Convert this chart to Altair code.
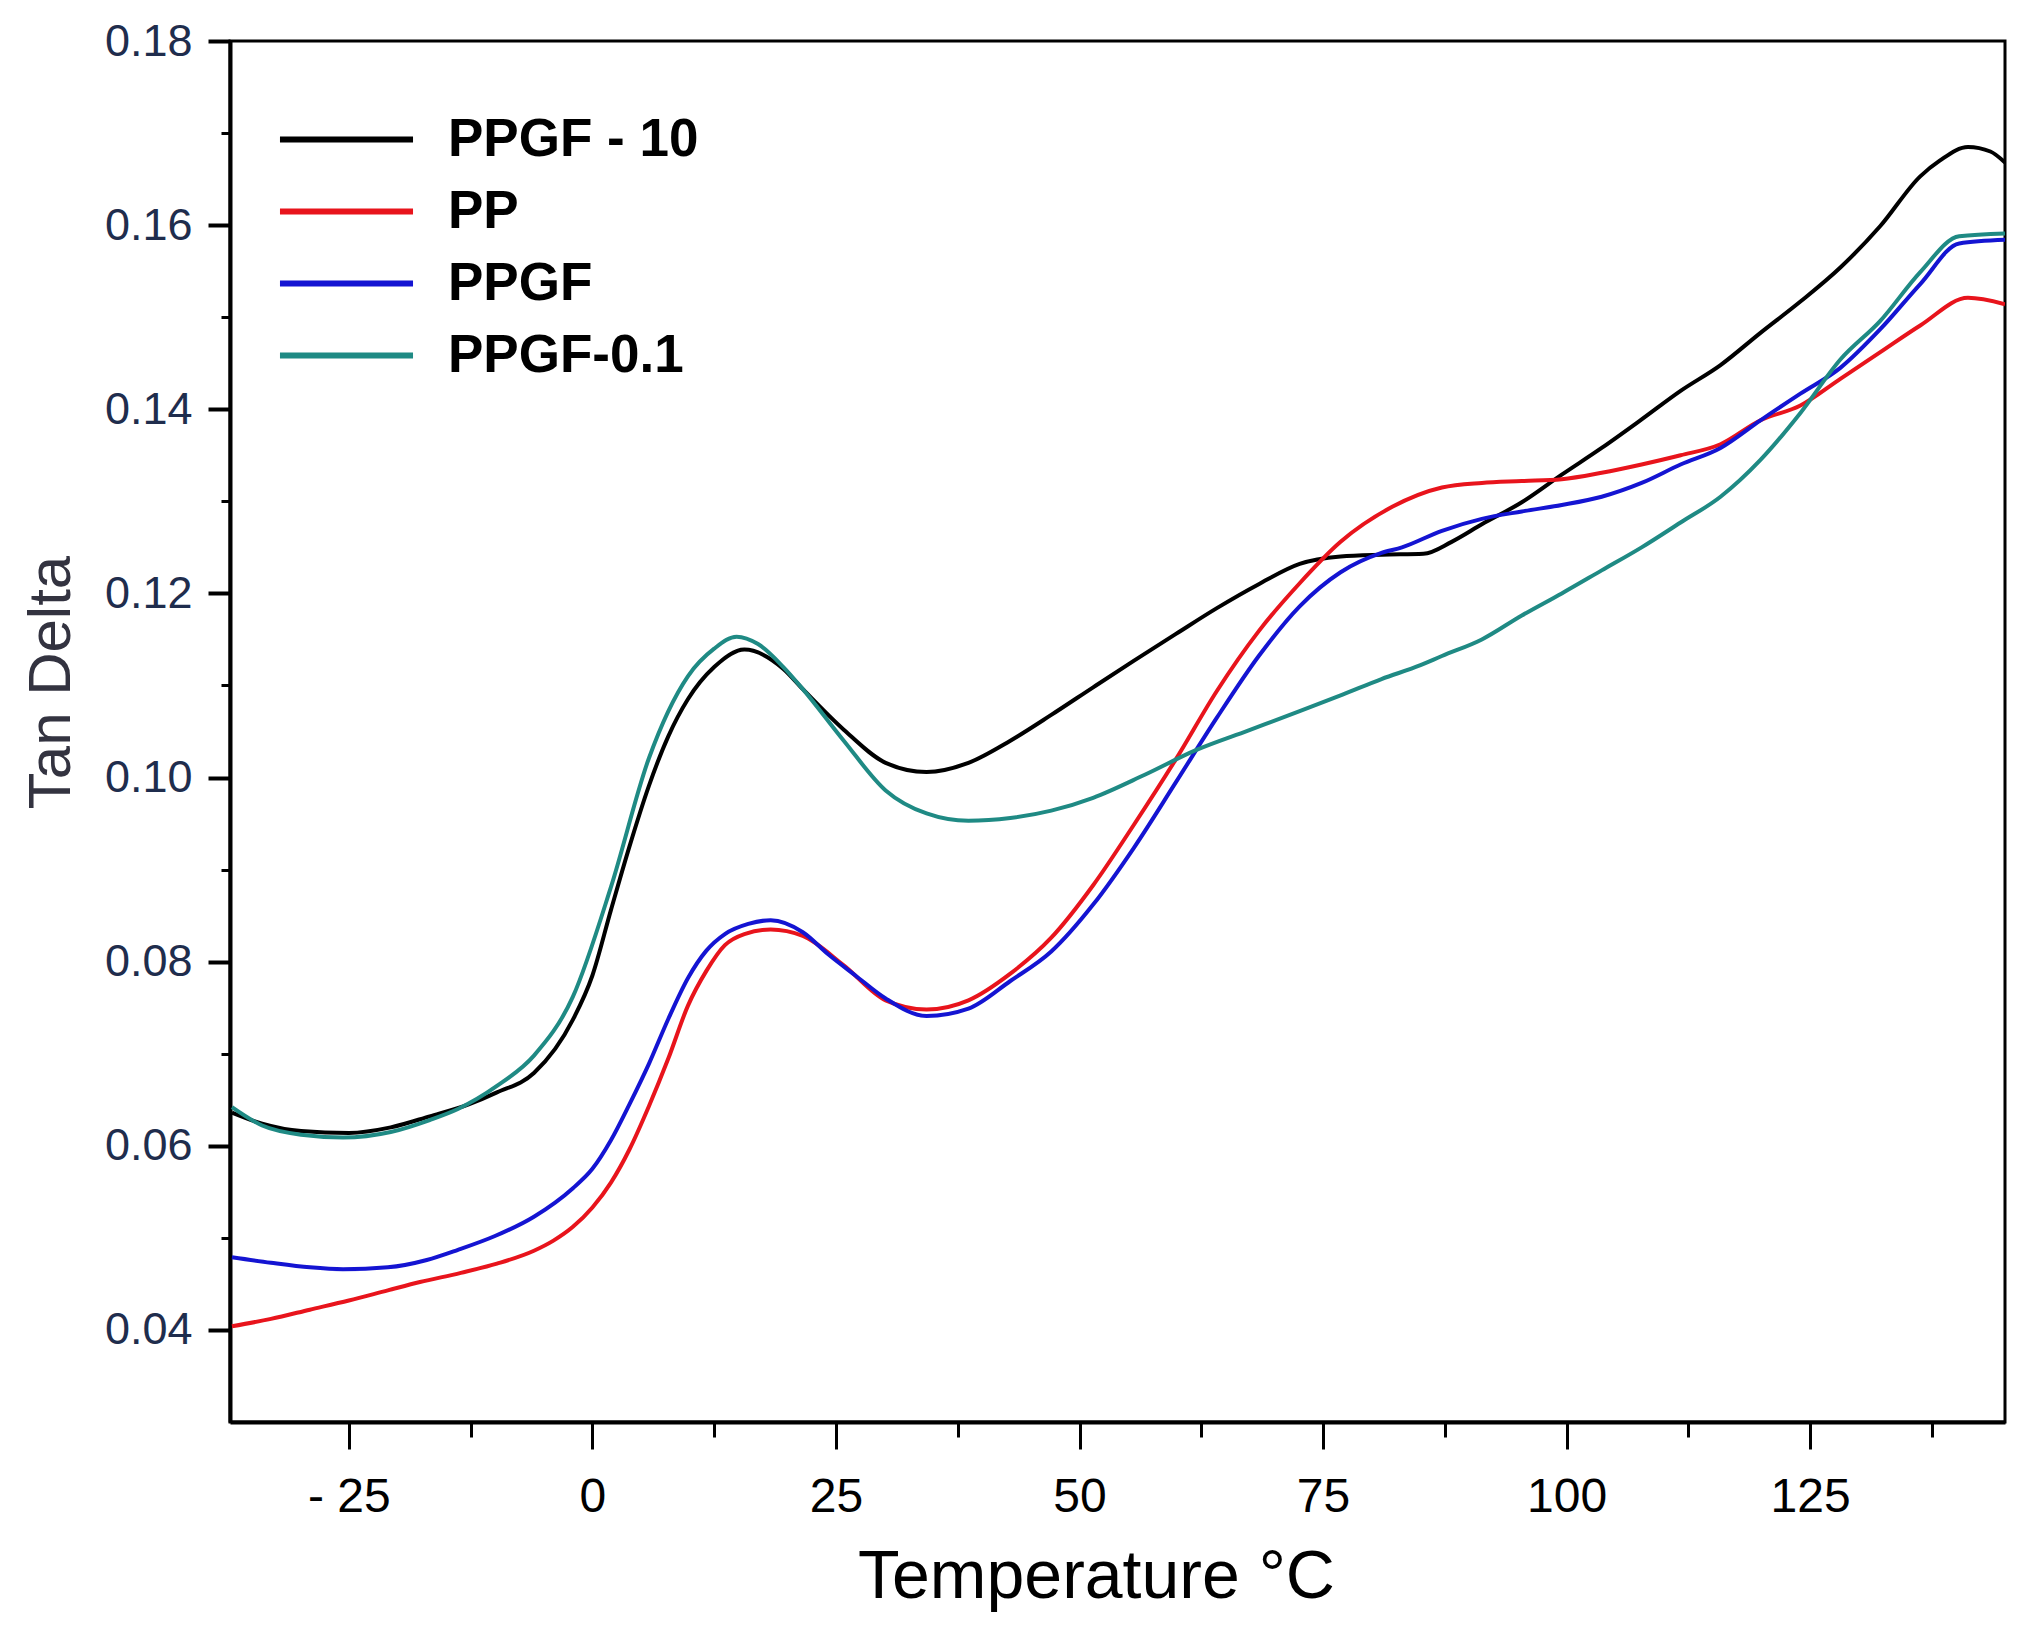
import pandas as pd
import altair as alt

# series: temperature (degC) and tan delta
series = ["PPGF - 10", "PP", "PPGF", "PPGF-0.1"]
colors = ["#000000", "#e8141c", "#1414d2", "#1f8a84"]

ppgf10_t = [-37, -33.9, -29.9, -25, -20.7, -16.7, -12.7, -9.8, -6.0, -2.0, 0, 1.9, 3.8,
            5.8, 7.8, 9.8, 12.5, 15.6, 19.6, 21.6, 25.8, 30.1, 34.3, 38.6, 42.9, 47.1,
            51.4, 55.6, 59.9, 64.1, 68.4, 72.6, 76.8, 81.0, 85.3, 88.2, 91.3, 95.4, 99.5,
            103.6, 107.7, 111.7, 115.8, 119.9, 124.0, 128.1, 132.2, 136.3, 138.3, 141.2,
            143.5, 145]
ppgf10_v = [0.0636, 0.0624, 0.0616, 0.0614, 0.0620, 0.0632, 0.0645, 0.0658, 0.0679,
            0.0737, 0.0785, 0.0856, 0.0925, 0.0991, 0.1045, 0.1085, 0.1120, 0.1139,
            0.1118, 0.1096, 0.1052, 0.1016, 0.1006, 0.1016, 0.1040, 0.1068, 0.1098,
            0.1127, 0.1156, 0.1184, 0.1210, 0.1232, 0.1240, 0.1242, 0.1243, 0.1256,
            0.1275, 0.1299, 0.1329, 0.1358, 0.1389, 0.1420, 0.1448, 0.1483, 0.1517,
            0.1554, 0.1599, 0.1653, 0.1670, 0.1685, 0.1680, 0.1668]

pp_t = [-37, -33, -29, -25, -21, -17.7, -13.5, -9.8, -6, -4.0, -2, 0, 1.9, 3.8, 5.8, 7.8,
        9.8, 11.7, 13.6, 15.6, 18.3, 21.6, 25.8, 30.1, 34.3, 38.6, 42.9, 47.1, 51.4,
        55.6, 59.9, 64.1, 68.4, 72.6, 76.8, 82.1, 87.2, 91.3, 95.4, 99.5, 103.6, 107.7,
        111.7, 115.8, 119.9, 124.0, 128.1, 132.2, 136.3, 141.2, 145]
pp_v = [0.0404, 0.0412, 0.0422, 0.0432, 0.0443, 0.0452, 0.0462, 0.0472, 0.0486, 0.0497,
        0.0512, 0.0533, 0.0560, 0.0596, 0.0643, 0.0695, 0.0752, 0.0790, 0.0818, 0.0830,
        0.0835, 0.0828, 0.0796, 0.0758, 0.0748, 0.0758, 0.0787, 0.0826, 0.0883, 0.0949,
        0.1020, 0.1094, 0.1159, 0.1211, 0.1256, 0.1294, 0.1315, 0.1320, 0.1322, 0.1324,
        0.1331, 0.1340, 0.1350, 0.1362, 0.1388, 0.1404, 0.1433, 0.1462, 0.1491, 0.1521,
        0.1514]

ppgf_t = [-37, -33, -29, -25.6, -21, -17, -13.8, -10, -6.0, -2.0, 0, 1.9, 3.8, 5.8, 7.8,
          9.8, 11.7, 13.6, 16, 18.3, 21.6, 24.2, 27, 30.1, 34.3, 38.6, 42.9, 47.1, 51.4,
          55.6, 59.9, 64.1, 68.4, 72.6, 76.8, 81.0, 83.1, 87.2, 91.3, 95.4, 99.5, 103.6,
          107.7, 111.7, 115.8, 119.9, 124.0, 128.1, 132.2, 136.3, 140.3, 145]
ppgf_v = [0.0479, 0.0473, 0.0468, 0.0466, 0.0468, 0.0476, 0.0487, 0.0502, 0.0523, 0.0554,
          0.0575, 0.0606, 0.0645, 0.0689, 0.0738, 0.0782, 0.0812, 0.0830, 0.0841, 0.0845,
          0.0832, 0.0808, 0.0785, 0.0760, 0.0741, 0.0749, 0.0779, 0.0811, 0.0862, 0.0924,
          0.0995, 0.1065, 0.1132, 0.1186, 0.1223, 0.1244, 0.1250, 0.1268, 0.1281, 0.1289,
          0.1296, 0.1305, 0.1320, 0.1340, 0.1358, 0.1388, 0.1417, 0.1445, 0.1487, 0.1536,
          0.1580, 0.1584]

ppgf01_t = [-37, -33.9, -29.9, -25.6, -20.7, -16.7, -13.8, -9.8, -6.0, -2.0, 1.9, 5.8,
            9.8, 12.5, 14.8, 17, 19.6, 21.6, 25.8, 30.1, 34.3, 38.6, 42.9, 47.1, 51.4,
            56.7, 62.0, 67.3, 72.6, 77, 81.0, 85, 87.2, 91.3, 95.4, 99.5, 103.6, 107.7,
            111.7, 115.8, 119.9, 124.0, 128.1, 132.2, 136.3, 140.3, 145]
ppgf01_v = [0.0642, 0.0622, 0.0612, 0.0609, 0.0615, 0.0628, 0.0640, 0.0665, 0.0698,
            0.0762, 0.0881, 0.1021, 0.1110, 0.1140, 0.1153, 0.1145, 0.1120, 0.1096,
            0.1040, 0.0986, 0.0961, 0.0953, 0.0956, 0.0964, 0.0978, 0.1003, 0.1030,
            0.1051, 0.1072, 0.1090, 0.1107, 0.1122, 0.1132, 0.1150, 0.1176, 0.1200,
            0.1225, 0.1250, 0.1277, 0.1305, 0.1345, 0.1396, 0.1454, 0.1496, 0.1549,
            0.1588, 0.1591]

x_major = [-25, 0, 25, 50, 75, 100, 125]
x_minor = [-12.5, 12.5, 37.5, 62.5, 87.5, 112.5, 137.5]
y_major = [0.04, 0.06, 0.08, 0.10, 0.12, 0.14, 0.16, 0.18]
y_minor = [0.05, 0.07, 0.09, 0.11, 0.13, 0.15, 0.17]

frames = []
for name, t, v in [(series[0], ppgf10_t, ppgf10_v), (series[1], pp_t, pp_v),
                   (series[2], ppgf_t, ppgf_v), (series[3], ppgf01_t, ppgf01_v)]:
    frames.append(pd.DataFrame({"T": t, "tan": v, "sample": name}))
df = pd.concat(frames, ignore_index=True)

FONT = "Liberation Sans"
xscale = alt.Scale(domain=[-37.2, 145], nice=False, zero=False)
yscale = alt.Scale(domain=[0.03, 0.18], nice=False, zero=False)

lines = alt.Chart(df).mark_line(strokeWidth=4, interpolate="monotone", clip=True).encode(
    x=alt.X("T:Q", scale=xscale,
            axis=alt.Axis(values=x_major, title="Temperature °C", orient="bottom",
                          labelExpr="datum.value < 0 ? '- ' + abs(datum.value) : datum.label",
                          labelFontSize=48, labelColor="#000000", labelPadding=24,
                          tickSize=27, tickWidth=3, tickColor="#000000",
                          domainWidth=4, domainColor="#000000", grid=False,
                          titleFontSize=68, titleFontWeight="normal", titleColor="#000000",
                          titlePadding=22, titleX=866)),
    y=alt.Y("tan:Q", scale=yscale,
            axis=alt.Axis(values=y_major, format=".2f", title="Tan Delta", orient="left",
                          labelFontSize=45, labelColor="#1f2d4d", labelPadding=16,
                          tickSize=22, tickWidth=4, tickColor="#000000",
                          domainWidth=4, domainColor="#000000", grid=False,
                          titleFontSize=60, titleFontWeight="normal", titleColor="#333340",
                          titlePadding=22, titleY=641)),
    color=alt.Color("sample:N", sort=series,
                    scale=alt.Scale(domain=series, range=colors),
                    legend=alt.Legend(title="", orient="none", legendX=40, legendY=72,
                                      symbolType="M-5,0H5", symbolSize=708,
                                      symbolStrokeWidth=6, symbolOffset=50,
                                      labelOffset=75, labelFontSize=53, labelLimit=600,
                                      labelFontWeight="bold", labelColor="#000000",
                                      labelFont=FONT, rowPadding=18)),
    order=alt.Order("order_key:Q"),
    detail="sample:N",
).transform_calculate(
    order_key="indexof(['PPGF - 10', 'PP', 'PPGF', 'PPGF-0.1'], datum.sample)"
)

# invisible layer only carrying the minor tick axes
minor = alt.Chart(df).mark_point(opacity=0).encode(
    x=alt.X("T:Q", scale=xscale,
            axis=alt.Axis(values=x_minor, labels=False, title="", orient="bottom",
                          tickSize=15, tickWidth=3, tickColor="#000000",
                          domain=False, grid=False)),
    y=alt.Y("tan:Q", scale=yscale,
            axis=alt.Axis(values=y_minor, labels=False, title="", orient="left",
                          tickSize=9, tickWidth=3, tickColor="#000000",
                          domain=False, grid=False)),
)

chart = alt.layer(lines, minor).resolve_axis(x="independent", y="independent").properties(
    width=1775,
    height=1381,
    autosize=alt.AutoSizeParams(type="none"),
    padding={"left": 222, "top": 33, "right": 11, "bottom": 198},
).configure(font=FONT).configure_view(stroke="#000000", strokeWidth=3)

chart.save("out.html", embed_options={"renderer": "svg", "actions": False})
